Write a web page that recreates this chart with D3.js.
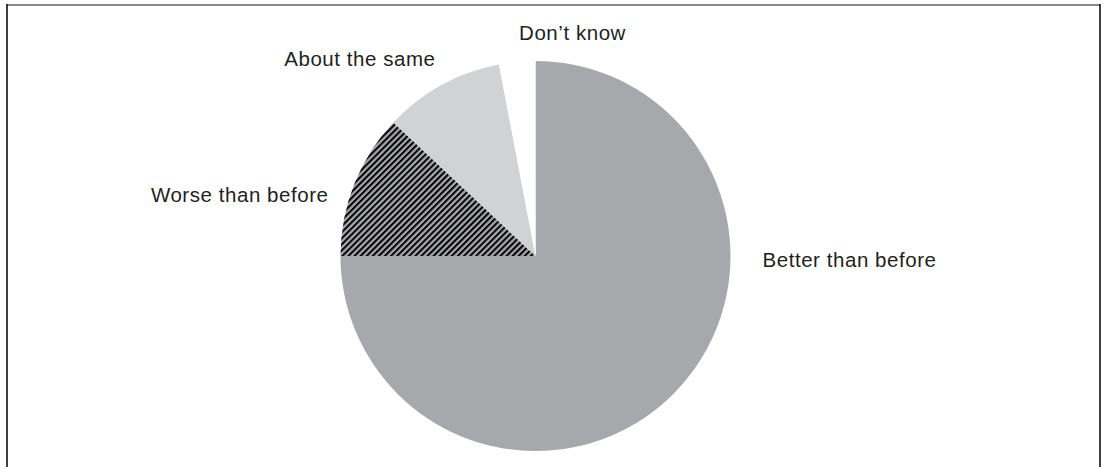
<!DOCTYPE html>
<html>
<head>
<meta charset="utf-8">
<script src="https://cdn.jsdelivr.net/npm/d3@7"></script>
<style>
  html, body { margin: 0; padding: 0; background: #fff; }
  svg { display: block; }
  text { font-family: "Liberation Sans", Arial, Helvetica, sans-serif; fill: #231f20; }
</style>
</head>
<body>
<svg id="chart" width="1103" height="467"></svg>
<script>
// Survey answers and their shares (%)
const categories = ["Better than before", "Worse than before", "About the same", "Don\u2019t know"];
const shares = [75, 12, 10, 3];
const fills = ["#a7a8ab", "url(#hatch)", "#d1d2d4", "#ffffff"];

const W = 1103, H = 467;
const svg = d3.select("#chart");

// diagonal hatch used for the "Worse" slice
const defs = svg.append("defs");
const pat = defs.append("pattern")
  .attr("id", "hatch")
  .attr("patternUnits", "userSpaceOnUse")
  .attr("width", 4.3).attr("height", 4.3)
  .attr("patternTransform", "rotate(45)");
pat.append("rect").attr("width", 4.3).attr("height", 4.3).attr("fill", "#a7a8ab");
pat.append("line").attr("x1", 1).attr("y1", 0).attr("x2", 1).attr("y2", 4.3)
  .attr("stroke", "#000").attr("stroke-width", 2);

// frame: grey top rule, black sides
svg.append("line").attr("x1", 7).attr("x2", 1100).attr("y1", 5).attr("y2", 5)
  .attr("stroke", "#888").attr("stroke-width", 2);
svg.append("line").attr("x1", 7).attr("x2", 7).attr("y1", 4).attr("y2", H)
  .attr("stroke", "#000").attr("stroke-width", 1.5);
svg.append("line").attr("x1", 1100).attr("x2", 1100).attr("y1", 4).attr("y2", H)
  .attr("stroke", "#000").attr("stroke-width", 1.5);

const cx = 535.5, cy = 256, R = 195;
const data = categories.map((c, i) => ({ name: c, value: shares[i], fill: fills[i] }));

const pie = d3.pie().sort(null).value(d => d.value);
const arc = d3.arc().innerRadius(0).outerRadius(R);
const arcs = pie(data);

const g = svg.append("g").attr("transform", `translate(${cx},${cy})`);
g.selectAll("path").data(arcs).join("path")
  .attr("d", arc)
  .attr("fill", d => d.data.fill);

// labels placed around the pie
const labelPos = [
  { dx: 227, dy: 11, anchor: "start" },
  { dx: -207, dy: -54, anchor: "end" },
  { dx: -100, dy: -190, anchor: "end" },
  { dx: 37, dy: -216, anchor: "middle" }
];
g.selectAll("text.lbl").data(arcs).join("text")
  .attr("class", "lbl")
  .attr("x", (d, i) => labelPos[i].dx)
  .attr("y", (d, i) => labelPos[i].dy)
  .attr("text-anchor", (d, i) => labelPos[i].anchor)
  .attr("font-size", 20.5)
  .attr("letter-spacing", 0.55)
  .text(d => d.data.name);
</script>
</body>
</html>
